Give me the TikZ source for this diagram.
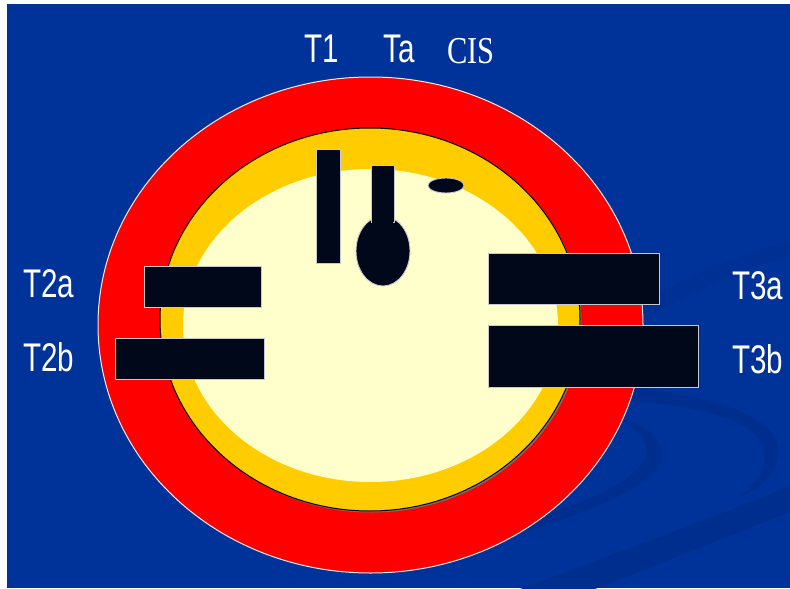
\documentclass[tikz,border=0pt]{standalone}
\usepackage{fontspec}
\newfontfamily\tagfont[FakeStretch=0.74]{Liberation Sans}
\newfontfamily\cisfont[FakeStretch=0.8]{Liberation Serif}
\usetikzlibrary{positioning}
\definecolor{rgBlue}{HTML}{003399}
\definecolor{rgSwoosh}{HTML}{002E8E}
\definecolor{rgRed}{HTML}{FF0000}
\definecolor{rgGold}{HTML}{FFCC00}
\definecolor{rgCream}{HTML}{FFFFCC}
\definecolor{rgBar}{HTML}{00081A}
\definecolor{rgEdge}{HTML}{C8C8D0}
\tikzset{
  swoosh/.style={fill=rgSwoosh},
  ring/.style={line width=1pt},
  bar/.style={fill=rgBar, draw=rgEdge, line width=0.9pt},
  tag/.style={text=white, inner sep=0pt, anchor=base west,
    font=\tagfont\fontsize{40}{40}\selectfont},
  cistag/.style={tag, font=\cisfont\fontsize{38}{38}\selectfont}
}
\begin{document}
\begin{tikzpicture}[x=1pt, y=-1pt]
  \useasboundingbox (0,0) rectangle (790,589);
  \fill[white] (0,0) rectangle (790,589);
  \fill[rgBlue] (7,4) rectangle (790,588);
  % background swooshes
  \fill[swoosh] (520,589) .. controls (620,552) and (700,522) .. (790,486)
    -- (790,512) .. controls (705,545) and (650,568) .. (595,589) -- cycle;
  \fill[swoosh] (470,548) .. controls (590,515) and (668,482) .. (662,452)
    .. controls (658,433) and (640,423) .. (620,419)
    .. controls (637,428) and (648,440) .. (646,455)
    .. controls (640,480) and (580,510) .. (470,534) -- cycle;
  \fill[swoosh] (620,386) .. controls (690,392) and (770,410) .. (778,445)
    .. controls (782,470) and (760,490) .. (738,497)
    .. controls (755,485) and (768,470) .. (764,450)
    .. controls (757,420) and (700,405) .. (620,400) -- cycle;
  \fill[swoosh, opacity=0.5] (640,302) .. controls (690,275) and (740,255) .. (790,240)
    -- (790,256) .. controls (740,270) and (690,292) .. (645,320) -- cycle;
  % rings
  \draw[ring, fill=rgRed, draw=white!85!gray] (370.5,325) ellipse [x radius=272.5, y radius=248];
  \fill[black!55] (371.5,321) ellipse [x radius=210, y radius=191.5];
  \draw[ring, fill=rgGold, draw=black] (370,319.5) ellipse [x radius=210, y radius=191.5];
  \fill[rgCream] (370.5,325.5) ellipse [x radius=187.5, y radius=156.5];
  % bars
  \draw[bar] (316,149) rectangle (340,263);
  \draw[bar] (383,251) ellipse [x radius=27, y radius=35];
  \draw[bar] (371,165) rectangle (394,222);
  \fill[rgBar] (371.9,215) rectangle (393.1,230);
  \draw[bar] (446,185.5) ellipse [x radius=18, y radius=7.5];
  \draw[bar] (144,266) rectangle (261,307);
  \draw[bar] (115,338) rectangle (264,379);
  \draw[bar] (488,253) rectangle (659,304);
  \draw[bar] (488,325) rectangle (698,387);
  % labels
  \node[tag] (t1) at (304,62) {T1};
  \node[tag] (ta) at (383,62) {Ta};
  \node[cistag] (cis) at (447,63) {CIS};
  \foreach \nm/\xx/\yy in {T2a/23/297, T2b/23/371, T3a/732/299, T3b/732/373}
    \node[tag] (\nm) at (\xx,\yy) {\nm};
\end{tikzpicture}
\end{document}
